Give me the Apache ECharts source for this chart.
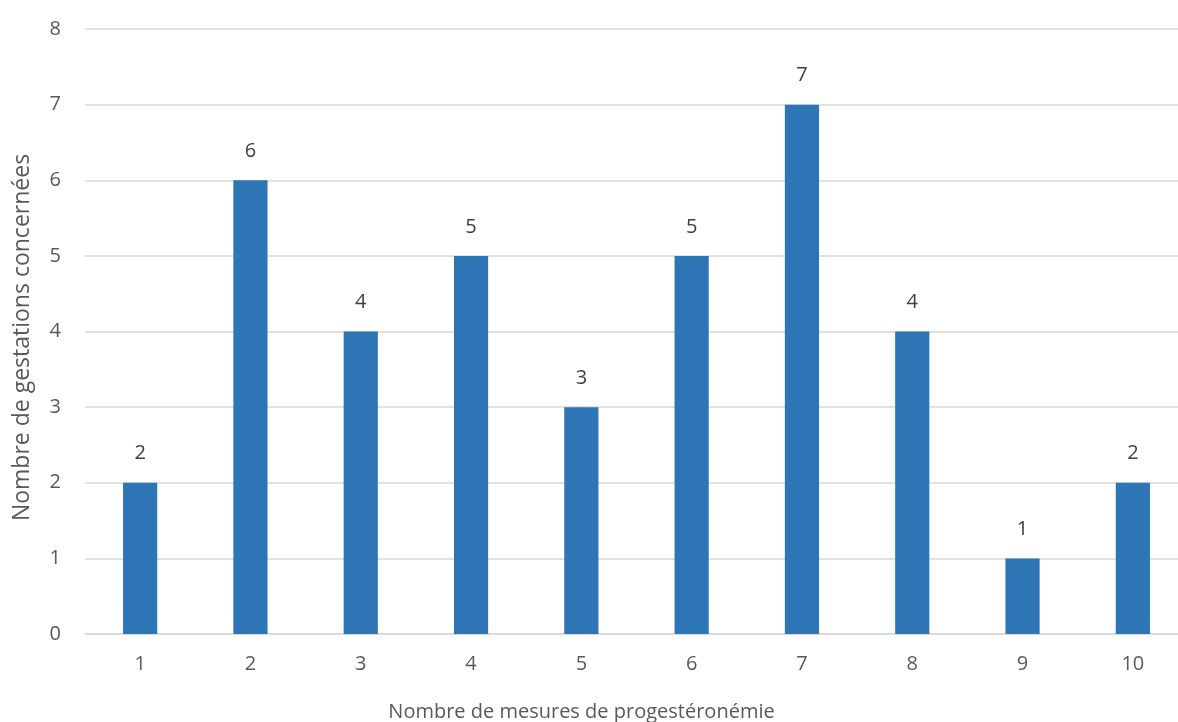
<!DOCTYPE html>
<html><head><meta charset="utf-8">
<script src="https://cdn.jsdelivr.net/npm/echarts@6/dist/echarts.min.js"></script>
<style>html,body{margin:0;padding:0;background:#fff}#c{width:1178px;height:722px}</style>
</head><body><div id="c"></div>
<script>
const categories = ['1','2','3','4','5','6','7','8','9','10'];
const values = [2,6,4,5,3,5,7,4,1,2];
const yTicks = [0,1,2,3,4,5,6,7,8];
const xTitle = 'Nombre de mesures de progestéronémie';
const yTitle = 'Nombre de gestations concernées';

const chart = echarts.init(document.getElementById('c'), null, {renderer:'canvas'});
chart.setOption({
  animation:false,
  backgroundColor:'#fff',
  grid:{left:85, right:-10, top:29, bottom:88, outerBoundsMode:'none', containLabel:false},
  xAxis:{
    type:'category', data:categories,
    axisLine:{lineStyle:{color:'#D9D9D9', width:1.5}},
    axisTick:{show:false},
    axisLabel:{color:'#595959', fontSize:20, margin:20, fontFamily:'Open Sans'},
    name:xTitle, nameLocation:'middle', nameGap:68,
    nameTextStyle:{color:'#595959', fontSize:20, fontFamily:'Open Sans', padding:[0,110,0,0]}
  },
  yAxis:{
    type:'value', min:yTicks[0], max:yTicks[yTicks.length-1], interval:1,
    axisLine:{show:false}, axisTick:{show:false},
    splitLine:{lineStyle:{color:'#D9D9D9', width:1.5}},
    axisLabel:{color:'#595959', fontSize:20, margin:24, fontFamily:'Open Sans'},
    name:yTitle, nameLocation:'middle', nameGap:51,
    nameTextStyle:{color:'#595959', fontSize:23, fontFamily:'Open Sans', padding:[0,12,0,0]}
  },
  series:[{
    type:'bar', data:values, barWidth:'31%',
    itemStyle:{color:'#2E75B6'},
    label:{show:true, position:'top', distance:19, color:'#404040', fontSize:20, fontFamily:'Open Sans'}
  }]
});
</script></body></html>
